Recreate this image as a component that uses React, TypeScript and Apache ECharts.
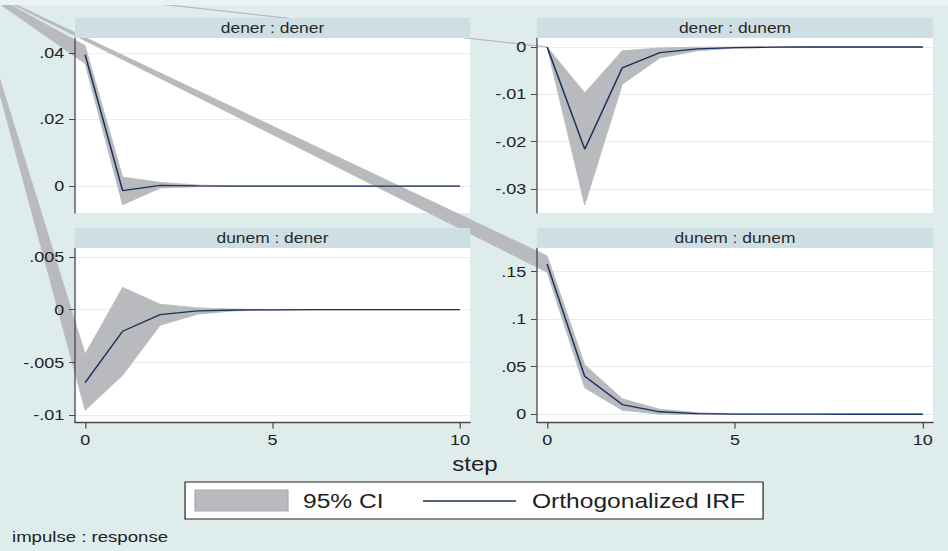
import React, { useEffect, useRef } from "react";
import * as echarts from "echarts";

// ---------- data ----------
const STEPS = [0, 1, 2, 3, 4, 5, 6, 7, 8, 9, 10];
const X_TICKS = [0, 5, 10];

const PANEL_TITLES = ["dener : dener", "dener : dunem", "dunem : dener", "dunem : dunem"];

// dener : dener
const IRF_DENER_DENER = [0.0395, -0.0014, 0.0002, 0.00005, 0, 0, 0, 0, 0, 0, 0];
const HI_DENER_DENER = [0.0422, 0.0027, 0.0011, 0.0003, 0.00005, 0.00001, 0, 0, 0, 0, 0];
const LO_DENER_DENER = [0.0368, -0.0056, -0.0006, -0.0002, -0.00005, -0.00001, 0, 0, 0, 0, 0];
const TICKS_DENER_DENER = [0, 0.02, 0.04];

// dener : dunem
const IRF_DENER_DUNEM = [0, -0.0216, -0.0044, -0.0012, -0.0004, -0.00012, -0.00004, 0, 0, 0, 0];
const HI_DENER_DUNEM = [0, -0.0097, -0.0008, -0.0002, -0.00005, 0, 0, 0, 0, 0, 0];
const LO_DENER_DUNEM = [0, -0.0334, -0.0079, -0.0023, -0.0008, -0.00025, -0.00008, 0, 0, 0, 0];
const TICKS_DENER_DUNEM = [-0.03, -0.02, -0.01, 0];

// dunem : dener
const IRF_DUNEM_DENER = [-0.0069, -0.00204, -0.00046, -0.00011, -0.00003, -0.00001, 0, 0, 0, 0, 0];
const HI_DUNEM_DENER = [-0.0042, 0.0021, 0.00052, 0.00017, 0.00005, 0.00001, 0, 0, 0, 0, 0];
const LO_DUNEM_DENER = [-0.0095, -0.0062, -0.00147, -0.00042, -0.00011, -0.00003, -0.00001, 0, 0, 0, 0];
const TICKS_DUNEM_DENER = [-0.01, -0.005, 0, 0.005];

// dunem : dunem
const IRF_DUNEM_DUNEM = [0.158, 0.0399, 0.0102, 0.0026, 0.0007, 0.00018, 0.00005, 0.00001, 0, 0, 0];
const HI_DUNEM_DUNEM = [0.1665, 0.052, 0.0162, 0.0052, 0.0016, 0.0005, 0.00015, 0.00004, 0.00001, 0, 0];
const LO_DUNEM_DUNEM = [0.1495, 0.0278, 0.0042, 0.0001, -0.0002, -0.0001, -0.00004, 0, 0, 0, 0];
const TICKS_DUNEM_DUNEM = [0, 0.05, 0.1, 0.15];

const LEGEND_CI = "95% CI";
const LEGEND_IRF = "Orthogonalized IRF";
const X_TITLE = "step";
const NOTE = "impulse : response";

// ---------- styles / layout ----------
const SX = 1.2; // horizontal stretch of the whole picture
const W = 790;
const H = 551;
const BG = "#dfecec";
const STRIP = "#cedfe4";
const BAND = "#b9babe";
const NAVY = "#1b315f";
const AXIS = "#4a4a4a";
const GRIDLINE = "#e4edef";
const TXT = "#222";
const FONT = "'Liberation Sans', Arial, sans-serif";
const APEX = [-25, -17];

const PANEL_LAYOUT = [
  { left: 62.5, top: 38, width: 329.2, height: 175, yMin: -0.0081, yMax: 0.0445, showX: false },
  { left: 447.5, top: 38, width: 330, height: 175, yMin: -0.0351, yMax: 0.0019, showX: false },
  { left: 62.5, top: 248, width: 329.2, height: 174.5, yMin: -0.01066, yMax: 0.00583, showX: true },
  { left: 447.5, top: 248, width: 330, height: 174.5, yMin: -0.0087, yMax: 0.1749, showX: true },
];

const PANEL_DATA = [
  { irf: IRF_DENER_DENER, hi: HI_DENER_DENER, lo: LO_DENER_DENER, ticks: TICKS_DENER_DENER },
  { irf: IRF_DENER_DUNEM, hi: HI_DENER_DUNEM, lo: LO_DENER_DUNEM, ticks: TICKS_DENER_DUNEM },
  { irf: IRF_DUNEM_DENER, hi: HI_DUNEM_DENER, lo: LO_DUNEM_DENER, ticks: TICKS_DUNEM_DENER },
  { irf: IRF_DUNEM_DUNEM, hi: HI_DUNEM_DUNEM, lo: LO_DUNEM_DUNEM, ticks: TICKS_DUNEM_DUNEM },
];

function fmt(v: number): string {
  if (Math.abs(v) < 1e-12) return "0";
  const s = String(+v.toPrecision(6));
  return s.replace(/^(-?)0\./, "$1.");
}

function buildOption() {
  const grid: any[] = [];
  const xAxis: any[] = [];
  const yAxis: any[] = [];
  const gridYAxis: any[] = [];
  const series: any[] = [];
  const graphic: any[] = [];

  PANEL_LAYOUT.forEach((p, i) => {
    const d = PANEL_DATA[i];
    grid.push({
      left: p.left,
      top: p.top,
      width: p.width,
      height: p.height,
      show: true,
      backgroundColor: "#ffffff",
      borderWidth: 0,
      containLabel: false,
    });
    xAxis.push({
      type: "value",
      gridIndex: i,
      min: -0.27,
      max: 10.27,
      show: p.showX,
      z: 5,
      axisLine: { show: true, onZero: false, lineStyle: { color: AXIS, width: 1.3 } },
      axisTick: { show: true, length: 6, customValues: X_TICKS, lineStyle: { color: AXIS, width: 1 } },
      axisLabel: {
        show: true,
        customValues: X_TICKS,
        margin: 10,
        color: TXT,
        fontFamily: FONT,
        fontSize: 15,
        formatter: (v: number) => fmt(v),
      },
      splitLine: { show: false },
    });
    // visible y axis: line, ticks, labels drawn above the bands
    yAxis.push({
      type: "value",
      gridIndex: i,
      min: p.yMin,
      max: p.yMax,
      z: 5,
      axisLine: { show: true, onZero: false, lineStyle: { color: AXIS, width: 1.1 } },
      axisTick: { show: true, length: 5, customValues: d.ticks, lineStyle: { color: AXIS, width: 1 } },
      axisLabel: {
        show: true,
        customValues: d.ticks,
        margin: 9,
        color: TXT,
        fontFamily: FONT,
        fontSize: 15,
        formatter: (v: number) => fmt(v),
      },
      splitLine: { show: false },
    });
    // grid-line-only y axis, below the bands
    gridYAxis.push({
      type: "value",
      gridIndex: i,
      min: p.yMin,
      max: p.yMax,
      z: 0,
      axisLine: { show: false, onZero: false },
      axisTick: { show: false, customValues: d.ticks },
      axisLabel: { show: false, customValues: d.ticks },
      splitLine: { show: true, lineStyle: { color: GRIDLINE, width: 1 } },
    });

    const hi = d.hi;
    const lo = d.lo;
    series.push({
      type: "custom",
      xAxisIndex: i,
      yAxisIndex: i,
      clip: false,
      silent: true,
      data: [[STEPS[0], d.irf[0]]],
      renderItem: (_params: any, api: any) => {
        const up = STEPS.map((s, k) => api.coord([s, hi[k]]));
        const dn = STEPS.map((s, k) => api.coord([s, lo[k]])).reverse();
        return {
          type: "polygon",
          shape: { points: [APEX, ...up, ...dn] },
          style: { fill: BAND, stroke: BAND, lineWidth: 0.8 },
        };
      },
    });
    series.push({
      type: "line",
      xAxisIndex: i,
      yAxisIndex: i,
      data: STEPS.map((s, k) => [s, d.irf[k]]),
      showSymbol: false,
      symbol: "none",
      silent: true,
      lineStyle: { color: NAVY, width: 1.3 },
    });

    // strip title
    graphic.push({
      type: "rect",
      z: 100,
      shape: { x: p.left, y: p.top - 20, width: p.width, height: 20 },
      style: { fill: STRIP },
      silent: true,
    });
    graphic.push({
      type: "text",
      z: 101,
      x: p.left + p.width / 2,
      y: p.top - 10,
      style: {
        text: PANEL_TITLES[i],
        fill: "#2a2a2a",
        font: `14.5px ${FONT}`,
        align: "center",
        verticalAlign: "middle",
      },
      silent: true,
    });
  });

  // light top edge
  graphic.push({
    type: "rect",
    z: 100,
    shape: { x: 0, y: 0, width: W, height: 5 },
    style: { fill: "#eaf3f3" },
    silent: true,
  });

  // x title
  graphic.push({
    type: "text",
    z: 101,
    x: 395.8,
    y: 464,
    style: { text: X_TITLE, fill: TXT, font: `20px ${FONT}`, align: "center", verticalAlign: "middle" },
    silent: true,
  });

  // legend
  graphic.push({
    type: "rect",
    z: 100,
    shape: { x: 154.2, y: 482, width: 481.7, height: 37 },
    style: { fill: "#ffffff", stroke: "#222", lineWidth: 1 },
    silent: true,
  });
  graphic.push({
    type: "rect",
    z: 101,
    shape: { x: 162.5, y: 490, width: 77.5, height: 21 },
    style: { fill: BAND, stroke: "#a8a9ad", lineWidth: 1 },
    silent: true,
  });
  graphic.push({
    type: "text",
    z: 101,
    x: 252.5,
    y: 501,
    style: { text: LEGEND_CI, fill: TXT, font: `20.5px ${FONT}`, align: "left", verticalAlign: "middle" },
    silent: true,
  });
  graphic.push({
    type: "line",
    z: 101,
    shape: { x1: 352.5, y1: 501, x2: 430, y2: 501 },
    style: { stroke: NAVY, lineWidth: 1.5 },
    silent: true,
  });
  graphic.push({
    type: "text",
    z: 101,
    x: 443.3,
    y: 501,
    style: { text: LEGEND_IRF, fill: TXT, font: `20.5px ${FONT}`, align: "left", verticalAlign: "middle" },
    silent: true,
  });

  // note
  graphic.push({
    type: "text",
    z: 101,
    x: 10,
    y: 537.5,
    style: { text: NOTE, fill: TXT, font: `15.5px ${FONT}`, align: "left", verticalAlign: "middle" },
    silent: true,
  });

  return {
    animation: false,
    backgroundColor: BG,
    grid,
    xAxis,
    yAxis: [...yAxis, ...gridYAxis],
    series,
    graphic,
  };
}

export default function App() {
  const ref = useRef<HTMLDivElement | null>(null);
  useEffect(() => {
    if (!ref.current) return;
    const chart = echarts.init(ref.current, null, { renderer: "svg", width: W, height: H });
    chart.setOption(buildOption() as any);
    return () => {
      chart.dispose();
    };
  }, []);
  return (
    <div
      style={{
        position: "absolute",
        left: 0,
        top: 0,
        width: 948,
        height: 551,
        overflow: "hidden",
        background: BG,
      }}
    >
      <div
        ref={ref}
        style={{
          width: W,
          height: H,
          transform: `scaleX(${SX})`,
          transformOrigin: "0 0",
        }}
      />
    </div>
  );
}
